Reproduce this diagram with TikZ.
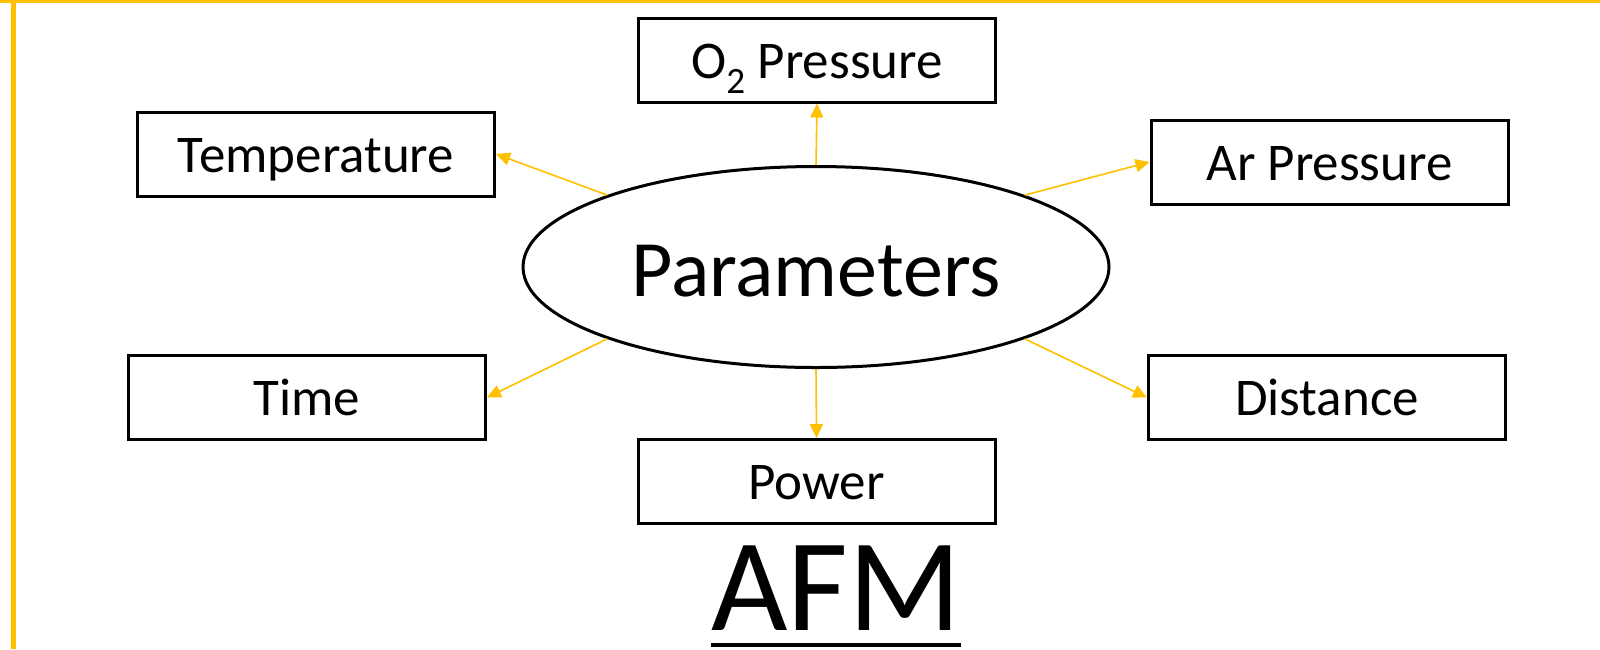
\documentclass[tikz,border=0pt]{standalone}
\usepackage{fontspec}
\setmainfont{Carlito}
\usetikzlibrary{shapes.geometric,arrows.meta}
\definecolor{gold}{HTML}{FFC000}
\tikzset{
  parambox/.style={draw=black,line width=3pt,minimum width=357pt,minimum height=84pt,inner sep=0pt,
    font=\fontsize{53pt}{58pt}\selectfont,text height=36pt,text depth=0pt},
  conn/.style={draw=gold,line width=1.6pt,-{Triangle[length=14pt,width=13pt]}},
}
\begin{document}
\begin{tikzpicture}[x=1pt,y=-1pt]
\useasboundingbox (0,0) rectangle (1600,649);
\fill[gold] (0,0) rectangle (1600,2.5);
\fill[gold] (10.5,0) rectangle (15.5,649);
\node[ellipse,draw=black,line width=3pt,minimum width=586pt,minimum height=201pt,inner sep=0pt,
  font=\fontsize{80pt}{84pt}\selectfont,text height=58pt,text depth=0pt] (e) at (816,267) {Parameters};
\node[parambox] (o2) at (817,60) {O\textsubscript{2} Pressure};
\node[parambox] (temp) at (316,154) {Temperature};
\node[parambox] (ar) at (1329.5,162) {Ar Pressure};
\node[parambox] (time) at (307,397.5) {Time};
\node[parambox] (dist) at (1327,397.5) {Distance};
\node[parambox] (power) at (816.5,481.5) {Power};
\node[anchor=base,inner sep=0pt,font=\fontsize{132pt}{134pt}\selectfont] (afm) at (836,630) {AFM};
\draw[line width=4pt] ([yshift=-15pt]afm.base west) -- ([yshift=-15pt]afm.base east);
\draw[conn] (e.north) -- (o2.south);
\draw[conn] (e.south) -- (power.north);
\draw[conn] (e.161) -- (temp.east);
\draw[conn] (e.19) -- (ar.west);
\draw[conn] (e.199) -- (time.east);
\draw[conn] (e.341) -- (dist.west);
\end{tikzpicture}
\end{document}
